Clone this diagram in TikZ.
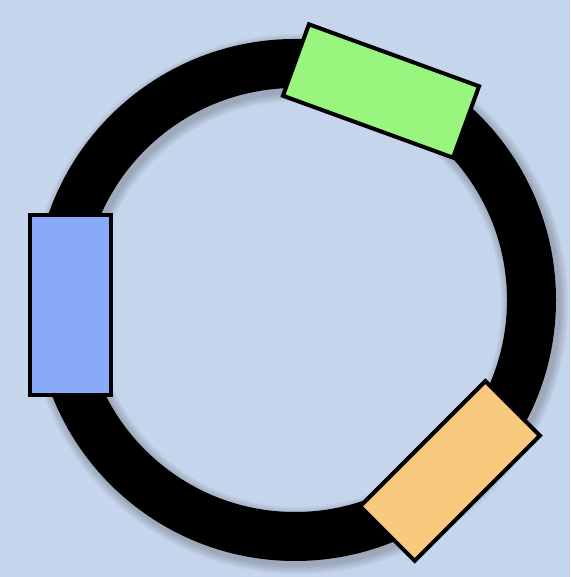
\documentclass[tikz,border=0pt]{standalone}
\definecolor{bgblue}{HTML}{C5D5EC}
\definecolor{boxblue}{HTML}{88AAF8}
\definecolor{boxgreen}{HTML}{98F67E}
\definecolor{boxorange}{HTML}{F8C87C}
\begin{document}
\begin{tikzpicture}[
    x=1pt, y=1pt,
    mybox/.style={draw=black, line width=4pt, inner sep=0pt},
    myring/.style={line width=49pt}
]
    % Background
    \fill[bgblue] (0, 0) rectangle (570, 577);
    \useasboundingbox (0, 0) rectangle (570, 577);

    % Soft shadow of the ring
    \foreach \i in {1,...,6} {
        \draw[myring, black, opacity=0.035, line width={49+3*\i}] (298, 273) circle (236.5);
    }

    % Ring
    \coordinate (c) at (295, 277);
    \draw[myring, black] (c) circle (236.5);

    % Boxes on the ring
    \node[mybox, fill=boxblue, minimum width=81pt, minimum height=180pt] (blue) at (70.5, 272) {};
    \node[mybox, fill=boxgreen, minimum width=181pt, minimum height=76pt, rotate=-20] (green) at (381, 486) {};
    \node[mybox, fill=boxorange, minimum width=177pt, minimum height=77pt, rotate=45] (orange) at (450, 106) {};
\end{tikzpicture}
\end{document}
